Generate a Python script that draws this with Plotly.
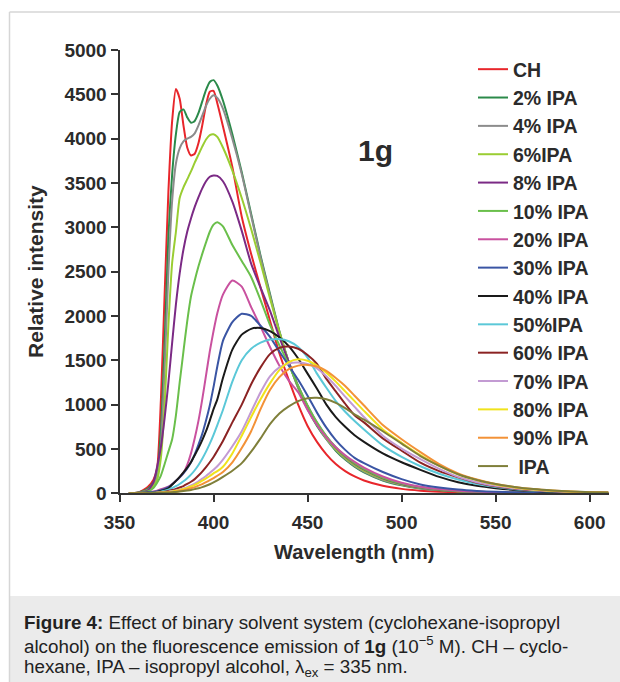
import plotly.graph_objects as go

W = [355, 360, 365, 368, 370, 372, 374, 376, 378, 380, 382, 384, 386, 388, 390, 392, 394, 396, 398, 400, 402,
     405, 410, 415, 420, 425, 430, 435, 440, 445, 450, 455, 460, 465, 470, 475, 480,
     490, 500, 510, 520, 530, 540, 550, 560, 570, 580, 590, 600, 610]

CH = [0, 10, 70, 150, 280, 1050, 2250, 3400, 4200, 4560, 4450, 4150, 3900, 3810, 3830, 3950, 4150, 4380, 4530, 4540, 4400,
      4140, 3680, 3120, 2700, 2320, 1950, 1580, 1280, 1000, 760, 580, 440, 330, 250, 190, 145,
      85, 50, 30, 18, 10, 6, 4, 2, 1, 0, 0, 0, 0]
IPA2 = [0, 8, 50, 120, 220, 700, 1700, 2900, 3600, 4050, 4300, 4330, 4240, 4180, 4200, 4290, 4420, 4550, 4640, 4660, 4600,
        4430, 4050, 3620, 3150, 2680, 2250, 1830, 1480, 1190, 950, 760, 610, 480, 380, 300, 235,
        145, 90, 55, 35, 22, 14, 9, 5, 3, 2, 1, 0, 0]
IPA4 = [0, 6, 40, 100, 190, 550, 1400, 2500, 3300, 3720, 3890, 3970, 4000, 4020, 4060, 4150, 4260, 4370, 4450, 4490, 4460,
        4340, 4000, 3600, 3130, 2660, 2230, 1820, 1480, 1190, 960, 770, 615, 490, 390, 310, 245,
        150, 95, 58, 36, 23, 15, 9, 6, 3, 2, 1, 0, 0]
IPA6 = [0, 5, 30, 80, 150, 400, 1000, 1900, 2600, 2950, 3330, 3450, 3540, 3630, 3730, 3820, 3910, 3990, 4040, 4050, 4020,
        3900, 3640, 3330, 2980, 2600, 2200, 1820, 1480, 1200, 970, 780, 625, 500, 400, 320, 255,
        160, 100, 62, 38, 24, 15, 10, 6, 4, 2, 1, 0, 0]
IPA8 = [0, 5, 30, 120, 300, 520, 850, 1250, 1700, 2130, 2480, 2750, 2950, 3100, 3230, 3340, 3440, 3520, 3570, 3585, 3580,
        3520, 3290, 2960, 2590, 2320, 2060, 1760, 1480, 1210, 985, 795, 640, 515, 415, 335, 270,
        170, 105, 65, 40, 25, 16, 10, 6, 4, 2, 1, 0, 0]
IPA10 = [0, 4, 20, 60, 120, 200, 330, 470, 610, 880, 1250, 1600, 1940, 2220, 2400, 2560, 2700, 2830, 2950, 3030, 3058,
         3010, 2800, 2620, 2440, 2180, 1900, 1670, 1450, 1210, 990, 800, 645, 520, 420, 340, 275,
         175, 110, 68, 42, 26, 17, 10, 6, 4, 2, 1, 0, 0]
IPA20 = [0, 3, 10, 20, 30, 45, 60, 75, 105, 140, 180, 230, 320, 450, 620, 820, 1060, 1330, 1600, 1830, 2030,
         2240, 2400, 2330, 2100, 1880, 1650, 1440, 1270, 1140, 940, 770, 630, 520, 430, 355, 290,
         190, 120, 75, 48, 30, 19, 12, 7, 4, 3, 2, 1, 0]
IPA30 = [0, 2, 8, 15, 22, 35, 50, 70, 100, 140, 180, 225, 280, 350, 440, 550, 670, 820, 990, 1200, 1430,
         1720, 1930, 2025, 2000, 1890, 1765, 1600, 1440, 1280, 1100, 910, 740, 600, 490, 400, 340,
         240, 160, 100, 65, 42, 27, 17, 11, 7, 4, 3, 2, 1]
IPA40 = [0, 2, 6, 10, 16, 25, 38, 55, 100, 140, 185, 235, 290, 350, 430, 510, 600, 700, 820, 950, 1060,
         1300, 1620, 1790, 1855, 1865, 1830, 1760, 1660, 1520, 1350, 1180, 1000, 860, 750, 655, 580,
         450, 350, 265, 185, 125, 85, 58, 38, 25, 16, 10, 6, 4]
IPA50 = [0, 1, 4, 8, 12, 18, 28, 40, 60, 80, 105, 135, 170, 210, 260, 320, 390, 470, 560, 660, 770,
         940, 1260, 1500, 1630, 1700, 1735, 1740, 1715, 1650, 1530, 1350, 1190, 1040, 920, 815, 720,
         540, 410, 305, 220, 155, 105, 70, 46, 30, 20, 13, 8, 5]
IPA60 = [0, 1, 3, 6, 9, 13, 19, 27, 37, 50, 65, 82, 105, 130, 160, 200, 245, 295, 350, 410, 480,
         590, 800, 1000, 1230, 1420, 1570, 1640, 1655, 1630, 1560, 1460, 1290, 1150, 1010, 880, 800,
         620, 480, 345, 250, 180, 120, 80, 52, 34, 22, 14, 9, 6]
IPA70 = [0, 1, 2, 4, 6, 9, 13, 18, 25, 33, 43, 55, 70, 88, 110, 135, 165, 195, 230, 265, 305,
         380, 530, 700, 920, 1140, 1320, 1420, 1465, 1475, 1460, 1410, 1320, 1210, 1090, 975, 860,
         650, 505, 385, 275, 185, 125, 85, 57, 38, 25, 16, 10, 6]
IPA80 = [0, 1, 2, 3, 5, 8, 11, 15, 21, 28, 37, 48, 61, 77, 95, 117, 142, 168, 195, 225, 250,
         300, 450, 650, 860, 1060, 1240, 1390, 1480, 1512, 1495, 1440, 1360, 1260, 1150, 1040, 930,
         720, 570, 430, 310, 215, 150, 100, 66, 42, 28, 18, 11, 7]
IPA90 = [0, 1, 2, 3, 4, 6, 8, 11, 15, 20, 27, 35, 45, 57, 70, 86, 104, 125, 148, 172, 198,
         240, 350, 510, 700, 950, 1165, 1310, 1400, 1440, 1448, 1430, 1380, 1300, 1210, 1100, 990,
         770, 610, 465, 330, 225, 155, 105, 72, 48, 32, 20, 12, 8]
IPA100 = [0, 1, 2, 3, 4, 5, 7, 9, 12, 16, 20, 25, 31, 38, 47, 57, 70, 85, 102, 122, 145,
          185, 255, 340, 470, 620, 780, 900, 980, 1040, 1072, 1078, 1060, 1020, 960, 890, 830,
          700, 560, 420, 310, 215, 150, 105, 72, 48, 32, 21, 13, 8]

NAMES = ["CH", "2% IPA", "4% IPA", "6%IPA", "8% IPA", "10% IPA", "20% IPA", "30% IPA", "40% IPA",
         "50%IPA", "60% IPA", "70% IPA", "80% IPA", "90% IPA", " IPA"]
SERIES = [CH, IPA2, IPA4, IPA6, IPA8, IPA10, IPA20, IPA30, IPA40, IPA50, IPA60, IPA70, IPA80, IPA90, IPA100]
COLORS = ["#e8262b", "#2b8a4a", "#8c8c8c", "#9acd32", "#7b2a85", "#6abf4b", "#c9519f", "#3a55a4", "#1a1a1a",
          "#5bc8d8", "#8b2323", "#c39bd3", "#f0e31c", "#f39237", "#7f7f3a"]

Y_TICKS = [0, 500, 1000, 1500, 2000, 2500, 3000, 3500, 4000, 4500, 5000]
X_TICKS = [350, 400, 450, 500, 550, 600]

CAPTION = [
    "<b>Figure 4:</b> Effect of binary solvent system (cyclohexane-isopropyl",
    "alcohol) on the fluorescence emission of <b>1g</b> (10<sup>\u22125</sup> M). CH \u2013 cyclo-",
    "hexane, IPA \u2013 isopropyl alcohol, \u03bb<sub>ex</sub> = 335 nm.",
]

PW, PH = 620, 682
def px(x):
    return x / PW
def py(y):
    return 1 - y / PH

TXT = "#2b2b2b"
FONT = "Liberation Sans, Arial, sans-serif"

fig = go.Figure()
for name, ys, col in zip(NAMES, SERIES, COLORS):
    fig.add_trace(go.Scatter(x=W, y=ys, name=name, mode="lines",
                             line=dict(color=col, width=2, shape="spline", smoothing=0.6)))

fig.update_layout(
    width=PW, height=PH,
    margin=dict(l=0, r=0, t=0, b=0, autoexpand=False),
    paper_bgcolor="white", plot_bgcolor="white",
    font=dict(family=FONT, color=TXT),
    xaxis=dict(domain=[px(119.5), px(608.5)], range=[350, 610], tickvals=X_TICKS,
               showgrid=False, zeroline=False, showline=True, linecolor="#333", linewidth=2,
               ticks="outside", ticklen=7, tickwidth=2, tickcolor="#333", automargin=False,
               ticklabelstandoff=4,
               tickfont=dict(size=19, weight="bold", color=TXT, family=FONT)),
    yaxis=dict(domain=[py(493.3), py(50)], range=[0, 5000], tickvals=Y_TICKS,
               showgrid=False, zeroline=False, showline=True, linecolor="#333", linewidth=2,
               ticks="outside", ticklen=7, tickwidth=2, tickcolor="#333", automargin=False,
               tickfont=dict(size=19, weight="bold", color=TXT, family=FONT)),
    legend=dict(x=px(473), y=py(50), xanchor="left", yanchor="top",
                bgcolor="rgba(0,0,0,0)", borderwidth=0,
                font=dict(size=19.5, weight="bold", color=TXT, family=FONT)),
    showlegend=True,
)

shapes = [
    dict(type="rect", xref="paper", yref="paper", x0=px(10), x1=1, y0=0, y1=py(596),
         fillcolor="#ebebeb", line=dict(width=0), layer="below"),
    dict(type="line", xref="paper", yref="paper", x0=px(9.5), x1=px(9.5), y0=0, y1=py(12),
         line=dict(color="#d6d6d6", width=1.5)),
    dict(type="line", xref="paper", yref="paper", x0=px(9.5), x1=1, y0=py(12), y1=py(12),
         line=dict(color="#d6d6d6", width=1.5)),
]
fig.update_layout(shapes=shapes)

ann = [
    dict(text="1g", x=px(375), y=py(150), xref="paper", yref="paper", showarrow=False,
         xanchor="center", yanchor="middle",
         font=dict(size=30, weight="bold", color=TXT, family=FONT)),
    dict(text="Wavelength (nm)", x=px(354), y=py(552), xref="paper", yref="paper", showarrow=False,
         xanchor="center", yanchor="middle",
         font=dict(size=20, weight="bold", color=TXT, family=FONT)),
    dict(text="Relative intensity", x=px(35), y=py(272), xref="paper", yref="paper", showarrow=False,
         xanchor="center", yanchor="middle",
         textangle=-90, font=dict(size=21, weight="bold", color=TXT, family=FONT)),
]
for i, line in enumerate(CAPTION):
    ann.append(dict(text=line, x=px(22), y=py(622 + 23 * i), xref="paper", yref="paper",
                    xanchor="left", yanchor="middle", align="left", showarrow=False,
                    font=dict(size=18.8, color="#222", family=FONT)))
fig.update_layout(annotations=ann)

fig.write_html("out.html")
